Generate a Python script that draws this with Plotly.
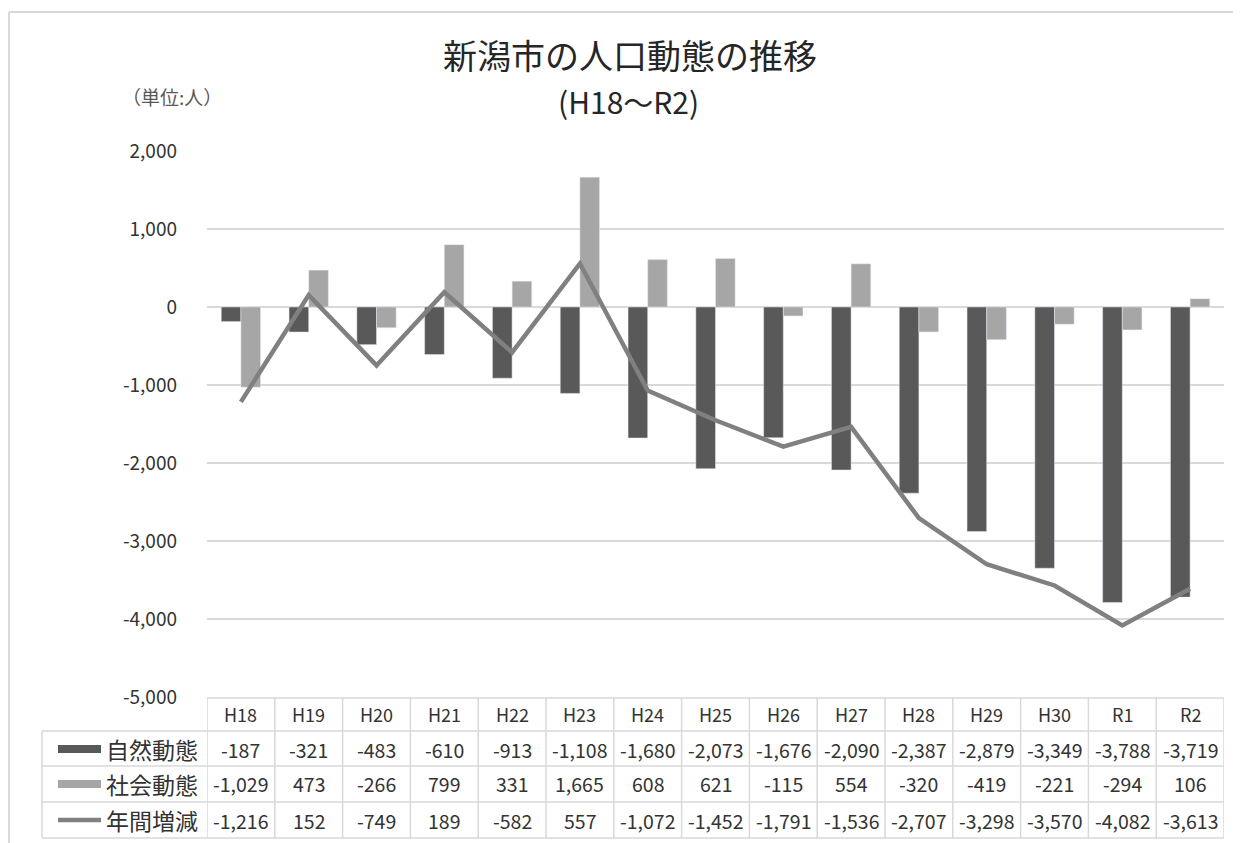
import plotly.graph_objects as go

categories = ["H18", "H19", "H20", "H21", "H22", "H23", "H24", "H25", "H26", "H27", "H28", "H29", "H30", "R1", "R2"]
natural = [-187, -321, -483, -610, -913, -1108, -1680, -2073, -1676, -2090, -2387, -2879, -3349, -3788, -3719]
social = [-1029, 473, -266, 799, 331, 1665, 608, 621, -115, 554, -320, -419, -221, -294, 106]
annual = [-1216, 152, -749, 189, -582, 557, -1072, -1452, -1791, -1536, -2707, -3298, -3570, -4082, -3613]
series_names = ["自然動態", "社会動態", "年間増減"]
tick_vals = [2000, 1000, 0, -1000, -2000, -3000, -4000, -5000]
tick_text = ["2,000", "1,000", "0", "-1,000", "-2,000", "-3,000", "-4,000", "-5,000"]

# page has an 8px body margin; work in reference-image pixels and shift
OFF = 8
W, H = 1241 - OFF, 843 - OFF
L, R, T, B = 207, 1224, 151, 697   # plot area in reference pixels
FONT = "Noto Sans CJK JP"
C_DARK, C_LIGHT, C_LINE = "#595959", "#a6a6a6", "#808080"
GRID = "#d9d9d9"
TXT = "#333333"


def px(x):
    return (x - L) / (R - L)


def py(y):
    return (B - y) / (B - T)


fig = go.Figure()
fig.add_trace(go.Bar(x=categories, y=natural, name=series_names[0], marker_color=C_DARK))
fig.add_trace(go.Bar(x=categories, y=social, name=series_names[1], marker_color=C_LIGHT))
fig.add_trace(go.Scatter(x=categories, y=annual, name=series_names[2], mode="lines",
                         line=dict(color=C_LINE, width=4.5)))

shapes = []
annotations = []

# outer frame
shapes.append(dict(type="line", xref="paper", yref="paper", x0=px(9), x1=px(1260), y0=py(12), y1=py(12),
                   line=dict(color=GRID, width=2)))
shapes.append(dict(type="line", xref="paper", yref="paper", x0=px(9), x1=px(9), y0=py(12), y1=py(860),
                   line=dict(color=GRID, width=2)))

# table grid
row_lines = [698, 731, 766, 802, 838]
for i, yy in enumerate(row_lines):
    x0 = L if i == 0 else 42
    shapes.append(dict(type="line", xref="paper", yref="paper", x0=px(x0), x1=px(R), y0=py(yy), y1=py(yy),
                       line=dict(color=GRID, width=1.5)))
shapes.append(dict(type="line", xref="paper", yref="paper", x0=px(42), x1=px(42), y0=py(731), y1=py(838),
                   line=dict(color=GRID, width=1.5)))
for k in range(len(categories) + 1):
    shapes.append(dict(type="line", xref="x", yref="paper", x0=k - 0.5, x1=k - 0.5, y0=py(698), y1=py(838),
                       line=dict(color=GRID, width=1.5)))

row_centers = [714, 749, 784, 820]
for i, c in enumerate(categories):
    annotations.append(dict(x=c, xref="x", y=py(row_centers[0]), yref="paper", text=c, showarrow=False,
                            font=dict(family=FONT, size=18, color=TXT), xanchor="center", yanchor="middle"))
    for r, vals in enumerate([natural, social, annual]):
        annotations.append(dict(x=c, xref="x", y=py(row_centers[r + 1]), yref="paper",
                                text=f"{vals[i]:,}", showarrow=False, xanchor="center",
                                font=dict(family=FONT, size=19.5, color=TXT), yanchor="middle"))

# legend keys in table
shapes.append(dict(type="rect", xref="paper", yref="paper", x0=px(58), x1=px(101), y0=py(745), y1=py(753),
                   fillcolor=C_DARK, line=dict(width=0)))
shapes.append(dict(type="rect", xref="paper", yref="paper", x0=px(58), x1=px(101), y0=py(780), y1=py(788),
                   fillcolor=C_LIGHT, line=dict(width=0)))
shapes.append(dict(type="line", xref="paper", yref="paper", x0=px(58), x1=px(101), y0=py(820), y1=py(820),
                   line=dict(color=C_LINE, width=4.5)))
for r, nm in enumerate(series_names):
    annotations.append(dict(x=px(104), xref="paper", y=py(row_centers[r + 1]), yref="paper", text=nm,
                            showarrow=False, xanchor="left", yanchor="middle",
                            font=dict(family=FONT, size=23, color=TXT)))

# titles
annotations.append(dict(x=px(630), xref="paper", y=py(55), yref="paper", text="新潟市の人口動態の推移",
                        showarrow=False, font=dict(family=FONT, size=34, color="#262626"),
                        xanchor="center", yanchor="middle"))
annotations.append(dict(x=px(628), xref="paper", y=py(101), yref="paper", text="(H18～R2)",
                        showarrow=False, font=dict(family=FONT, size=30, color="#262626"),
                        xanchor="center", yanchor="middle"))
annotations.append(dict(x=px(172), xref="paper", y=py(97), yref="paper", text="（単位:人）",
                        showarrow=False, font=dict(family=FONT, size=19, color="#595959"),
                        xanchor="center", yanchor="middle"))

fig.update_layout(
    width=W, height=H,
    margin=dict(l=L - OFF, r=W - (R - OFF), t=T - OFF, b=H - (B - OFF), pad=0),
    paper_bgcolor="white", plot_bgcolor="white",
    showlegend=False,
    barmode="group", bargap=0.42, bargroupgap=0,
    shapes=shapes, annotations=annotations,
    font=dict(family=FONT, color=TXT),
    xaxis=dict(showticklabels=False, showgrid=False, zeroline=False, showline=False,
               range=[-0.5, len(categories) - 0.5], fixedrange=True),
    yaxis=dict(range=[-5000, 2000], tickvals=tick_vals, ticktext=tick_text, showgrid=True,
               gridcolor=GRID, gridwidth=1.5, zeroline=False, showline=False,
               tickfont=dict(family=FONT, size=19, color=TXT), ticks="", ticklabelstandoff=29),
)

fig.write_html("out.html")
